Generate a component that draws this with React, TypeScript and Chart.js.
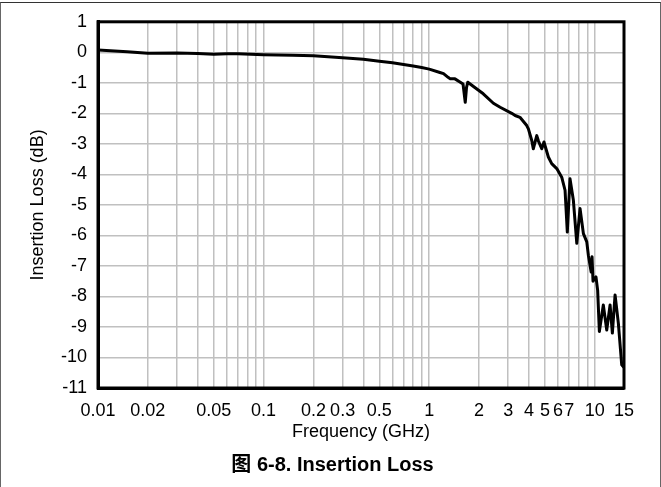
import React, { useEffect, useRef } from "react";
import { Chart, registerables } from "chart.js";

Chart.register(...registerables);

// Frequency (GHz) of each sampled point
const freqGHz = [
  0.01, 0.015, 0.02, 0.03, 0.04, 0.05, 0.06, 0.07, 0.1, 0.15, 0.2, 0.3, 0.4, 0.5, 0.6, 0.7, 0.8, 0.9, 1.0,
  1.16, 1.22, 1.3, 1.34, 1.43, 1.54, 1.6, 1.65, 1.68, 1.71, 1.85, 2.12, 2.44, 2.68, 3.15, 3.3, 3.53, 3.88,
  3.97, 4.16, 4.25, 4.46, 4.56, 4.78, 4.93, 5.24, 5.49, 5.89, 6.31, 6.61, 6.82, 7.08, 7.42, 7.78, 8.14,
  8.53, 8.94, 9.14, 9.5, 9.62, 9.75, 10.16, 10.4, 10.65, 11.25, 11.8, 12.36, 12.76, 13.25, 13.87, 14.53, 14.86,
];
// Insertion loss (dB)
const lossDb = [
  0.08, 0.02, -0.03, -0.02, -0.04, -0.06, -0.05, -0.05, -0.08, -0.1, -0.11, -0.18, -0.23, -0.29, -0.34, -0.4,
  -0.45, -0.5, -0.55, -0.66, -0.7, -0.82, -0.87, -0.87, -0.98, -1.04, -1.64, -1.15, -0.98, -1.12, -1.36, -1.67,
  -1.8, -2.0, -2.07, -2.13, -2.4, -2.51, -2.89, -3.16, -2.73, -2.9, -3.16, -2.94, -3.43, -3.65, -3.81, -4.09,
  -4.52, -5.89, -4.14, -4.85, -6.26, -5.12, -5.94, -6.21, -6.65, -7.2, -6.7, -7.5, -7.36, -7.8, -9.15, -8.28,
  -9.1, -8.28, -9.2, -7.95, -8.88, -10.24, -10.3,
];

// Vertical grid lines (log decades) and labelled ticks
const xGridValues = [
  0.01, 0.02, 0.03, 0.04, 0.05, 0.06, 0.07, 0.08, 0.09,
  0.1, 0.2, 0.3, 0.4, 0.5, 0.6, 0.7, 0.8, 0.9,
  1, 2, 3, 4, 5, 6, 7, 8, 9, 10, 15,
];
const xTickValues = [0.01, 0.02, 0.05, 0.1, 0.2, 0.3, 0.5, 1, 2, 3, 4, 5, 6, 7, 10, 15];
const xTickLabels = ["0.01", "0.02", "0.05", "0.1", "0.2", "0.3", "0.5", "1", "2", "3", "4", "5", "6", "7", "10", "15"];

const yMin = -11;
const yMax = 1;

const xTitle = "Frequency (GHz)";
const yTitle = "Insertion Loss (dB)";
const caption = "图 6-8. Insertion Loss";

const FONT = '"Liberation Sans", Arial, "Noto Sans CJK SC", sans-serif';

const framePlugin = {
  id: "frameBox",
  afterDraw(chart: any) {
    const { ctx, chartArea } = chart;
    ctx.save();
    ctx.strokeStyle = "#000";
    ctx.lineWidth = 3;
    ctx.strokeRect(chartArea.left, chartArea.top, chartArea.right - chartArea.left, chartArea.bottom - chartArea.top);
    ctx.restore();
  },
};

export default function App() {
  const ref = useRef<HTMLCanvasElement | null>(null);

  useEffect(() => {
    if (!ref.current) return;
    const data = freqGHz.map((f, i) => ({ x: f, y: lossDb[i] }));
    const chart = new Chart(ref.current, {
      type: "line",
      data: {
        datasets: [
          {
            data,
            borderColor: "#000",
            borderWidth: 3,
            pointRadius: 0,
            tension: 0,
            fill: false,
            borderJoinStyle: "round",
            borderCapStyle: "round",
          },
        ],
      },
      options: {
        animation: false,
        responsive: false,
        maintainAspectRatio: false,
        layout: { padding: { top: 21, right: 37, bottom: 44.5, left: 0 } },
        plugins: { legend: { display: false }, tooltip: { enabled: false } },
        scales: {
          x: {
            type: "logarithmic",
            min: 0.01,
            max: 15,
            afterBuildTicks: (s: any) => {
              s.ticks = xGridValues.map((v) => ({ value: v }));
            },
            afterFit: (s: any) => {
              s.height = 54.5;
            },
            grid: { color: "#c0c0c0", lineWidth: 1.5, drawTicks: false },
            border: { display: true, color: "#000", width: 3 },
            ticks: {
              autoSkip: false,
              maxRotation: 0,
              minRotation: 0,
              padding: 12,
              color: "#000",
              font: { family: FONT, size: 18 },
              callback: (value: any) => {
                const v = Number(value);
                const idx = xTickValues.findIndex((t) => Math.abs(t - v) / t < 1e-6);
                return idx >= 0 ? xTickLabels[idx] : "";
              },
            },
            title: {
              display: true,
              text: xTitle,
              color: "#000",
              font: { family: FONT, size: 18 },
              padding: { top: 0, bottom: 0 },
            },
          },
          y: {
            type: "linear",
            min: yMin,
            max: yMax,
            afterFit: (s: any) => {
              s.width = 98;
            },
            grid: { color: "#c0c0c0", lineWidth: 1.5, drawTicks: false },
            border: { display: true, color: "#000", width: 3 },
            ticks: {
              stepSize: 1,
              padding: 11,
              color: "#000",
              font: { family: FONT, size: 18 },
            },
            title: {
              display: true,
              text: yTitle,
              color: "#000",
              font: { family: FONT, size: 18 },
              padding: { top: 27, bottom: 0 },
            },
          },
        },
      },
      plugins: [framePlugin],
    } as any);
    return () => chart.destroy();
  }, []);

  return (
    <div style={{ position: "absolute", left: 0, top: 0, width: 661, height: 487, background: "#fff", overflow: "hidden" }}>
      <div
        style={{
          position: "absolute",
          left: 0,
          top: 2,
          width: 659,
          height: 520,
          borderLeft: "1px solid #666",
          borderTop: "1px solid #333",
          borderRight: "1px solid #666",
        }}
      />
      <canvas ref={ref} width={661} height={487} style={{ position: "absolute", left: 0, top: 0, width: 661, height: 487 }} />
      <div
        style={{
          position: "absolute",
          left: 2,
          top: 452,
          width: 661,
          textAlign: "center",
          fontFamily: FONT,
          fontWeight: "bold",
          fontSize: 20,
          lineHeight: "24px",
          color: "#000",
        }}
      >
        {caption}
      </div>
    </div>
  );
}
